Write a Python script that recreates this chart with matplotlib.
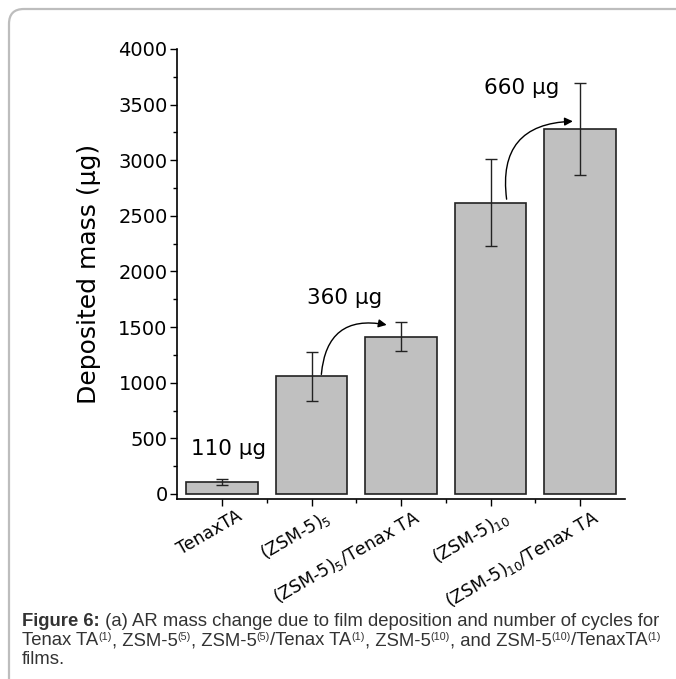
import matplotlib.pyplot as plt
import numpy as np
from matplotlib.patches import FancyBboxPatch
from matplotlib.transforms import ScaledTranslation

# data
samples = ['TenaxTA', '(ZSM-5)$_5$', '(ZSM-5)$_5$/Tenax TA', '(ZSM-5)$_{10}$', '(ZSM-5)$_{10}$/Tenax TA']
mass = [110, 1060, 1415, 2620, 3280]
mass_err = [25, 220, 130, 390, 410]
gain_labels = ['110 \u03bcg', '360 \u03bcg', '660 \u03bcg']
gain_pos = [(1.07, 400), (2.37, 1765), (4.35, 3650)]
# arrows: (start, end) in data units
arrows = [((2.11, 1075), (2.84, 1520)), ((4.18, 2650), (4.92, 3350))]

# caption pieces: (text, style)  n = normal, b = bold, s = superscript
caption = [
    [('Figure 6:', 'b'), (' (a) AR mass change due to film deposition and number of cycles for', 'n')],
    [('Tenax TA', 'n'), ('(1)', 's'), (', ZSM-5', 'n'), ('(5)', 's'), (', ZSM-5', 'n'), ('(5)', 's'),
     ('/Tenax TA', 'n'), ('(1)', 's'), (', ZSM-5', 'n'), ('(10)', 's'), (', and ZSM-5', 'n'),
     ('(10)', 's'), ('/TenaxTA', 'n'), ('(1)', 's')],
    [('films.', 'n')],
]

fig = plt.figure(figsize=(6.76, 6.79), dpi=100)

# rounded frame around the figure
frame = FancyBboxPatch((9 / 676, -0.2), 1.2, 1.2 - 9 / 679,
                       boxstyle='round,pad=0,rounding_size=0.022',
                       transform=fig.transFigure, fill=False,
                       edgecolor='#bdbdbd', linewidth=1.6, clip_on=False)
fig.patches.append(frame)

ax = fig.add_axes([177.25 / 676, 1 - 499 / 679, (624.75 - 177.25) / 676, (499 - 49) / 679])
x = np.arange(1, len(samples) + 1)
ax.bar(x, mass, width=0.8, color='#c0c0c0', edgecolor='#222222', linewidth=1.2, zorder=2)
ax.errorbar(x, mass, yerr=mass_err, fmt='none', ecolor='#222222', elinewidth=1.0,
            capsize=4, capthick=1.0, zorder=3)

ax.set_xlim(0.5, 5.5)
ax.set_ylim(-45, 4000)
ax.set_yticks(np.arange(0, 4001, 500))
ax.set_yticks(np.arange(250, 4000, 500), minor=True)
ax.set_xticks(x)
ax.set_xticks(np.arange(1.5, 5.5, 1), minor=True)
ax.spines['top'].set_visible(False)
ax.spines['right'].set_visible(False)
for s in ['left', 'bottom']:
    ax.spines[s].set_linewidth(1.2)
ax.tick_params(which='major', direction='out', length=5, width=1.0, labelsize=14, pad=2)
ax.tick_params(which='minor', direction='out', length=3, width=1.0)

ax.set_xticklabels(samples, rotation=30, ha='right', va='top', fontsize=12.5)
offset = ScaledTranslation(23 / 100, 2 / 100, fig.dpi_scale_trans)
for lab in ax.get_xticklabels():
    lab.set_transform(lab.get_transform() + offset)

ax.set_ylabel('Deposited mass (\u03bcg)', fontsize=18, labelpad=12)

for txt, (tx, ty) in zip(gain_labels, gain_pos):
    ax.text(tx, ty, txt, fontsize=15.5, ha='center', va='center')

for (x0, y0), (x1, y1) in arrows:
    ax.annotate('', xy=(x1, y1), xytext=(x0, y0),
                arrowprops=dict(arrowstyle='-|>', color='black', lw=1.0,
                                connectionstyle='arc3,rad=-0.55', mutation_scale=12,
                                shrinkA=0, shrinkB=0))

# caption, drawn piece by piece
renderer = fig.canvas.get_renderer()
base_size = 13.3
baselines = [626, 645, 664]
for line, yb in zip(caption, baselines):
    xp = 22
    for txt, style in line:
        size = base_size * 0.58 if style == 's' else base_size
        dy = 5 if style == 's' else 0
        t = fig.text(xp / 676, 1 - (yb - dy) / 679, txt, fontsize=size, color='#333333',
                     family='Liberation Sans', va='baseline',
                     fontweight='bold' if style == 'b' else 'normal')
        xp += t.get_window_extent(renderer).width

fig.savefig('out.png', dpi=100)
